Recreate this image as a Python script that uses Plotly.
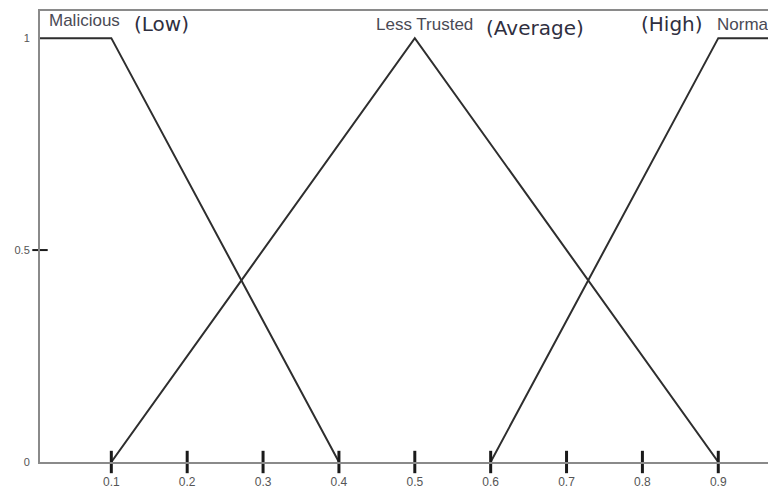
import plotly.graph_objects as go

# Membership functions (x breakpoints and membership values)
malicious_x = [0.0, 0.1, 0.4]
malicious_y = [1.0, 1.0, 0.0]
less_trusted_x = [0.1, 0.5, 0.9]
less_trusted_y = [0.0, 1.0, 0.0]
normal_x = [0.6, 0.9, 1.0]
normal_y = [0.0, 1.0, 1.0]

x_ticks = [0.1, 0.2, 0.3, 0.4, 0.5, 0.6, 0.7, 0.8, 0.9]
x_tick_labels = ["0.1", "0.2", "0.3", "0.4", "0.5", "0.6", "0.7", "0.8", "0.9"]
y_ticks = [0, 0.5, 1]
y_tick_labels = ["0", "0.5", "1"]

set_names = ["Malicious", "Less Trusted", "Normal"]
set_x = [0.0653, 0.5134, 0.8955]
set_y = [1.042, 1.033, 1.033]
set_anchor = ["center", "center", "left"]
level_names = ["(Low)", "(Average)", "(High)"]
level_x = [0.1655, 0.6584, 0.839]
level_y = [1.034, 1.025, 1.034]

X_RANGE = [0.006, 0.9708]
Y_RANGE = [0, 1.064]

fig = go.Figure()
line_style = dict(color="#2e2e2e", width=2)
for xs, ys, nm in [(malicious_x, malicious_y, "Malicious"),
                   (less_trusted_x, less_trusted_y, "Less Trusted"),
                   (normal_x, normal_y, "Normal")]:
    fig.add_trace(go.Scatter(x=xs, y=ys, mode="lines", line=line_style,
                             name=nm, showlegend=False, hoverinfo="skip"))

# crossing tick marks on the x axis
fig.add_trace(go.Scatter(x=x_ticks, y=[0] * len(x_ticks), mode="markers",
                         marker=dict(symbol="line-ns", size=16,
                                     line=dict(color="#1a1a1a", width=3)),
                         cliponaxis=False, showlegend=False, hoverinfo="skip"))
# crossing tick mark on the y axis at 0.5
fig.add_trace(go.Scatter(x=[X_RANGE[0]], y=[0.5], mode="markers",
                         marker=dict(symbol="line-ew", size=11,
                                     line=dict(color="#1a1a1a", width=2)),
                         cliponaxis=False, showlegend=False, hoverinfo="skip"))

for t, x, y, a in zip(set_names, set_x, set_y, set_anchor):
    fig.add_annotation(x=x, y=y, text=t, showarrow=False, xanchor=a,
                       yanchor="middle",
                       font=dict(family="Liberation Sans Narrow, Liberation Sans, Arial",
                                 size=17, color="#4a4a55"))
for t, x, y in zip(level_names, level_x, level_y):
    fig.add_annotation(x=x, y=y, text=t, showarrow=False, xanchor="center",
                       yanchor="middle",
                       font=dict(family="DejaVu Sans", size=20, color="#2f2f3f"))

fig.update_layout(
    width=768, height=483,
    margin=dict(l=32, r=4, t=1, b=29),
    paper_bgcolor="white", plot_bgcolor="white",
    xaxis=dict(range=X_RANGE, tickvals=x_ticks, ticktext=x_tick_labels,
               showgrid=False, zeroline=False, showline=True, mirror=True,
               linecolor="#8a8a8a", linewidth=2, ticks="",
               tickfont=dict(family="Liberation Sans Narrow, Liberation Sans", size=12,
                             color="#555"),
               ticklabelstandoff=8),
    yaxis=dict(range=Y_RANGE, tickvals=y_ticks, ticktext=y_tick_labels,
               showgrid=False, zeroline=False, showline=True, mirror=True,
               linecolor="#8a8a8a", linewidth=2, ticks="",
               tickfont=dict(family="Liberation Sans Narrow, Liberation Sans", size=11,
                             color="#555"),
               ticklabelstandoff=6),
)

fig.write_html("out.html")
